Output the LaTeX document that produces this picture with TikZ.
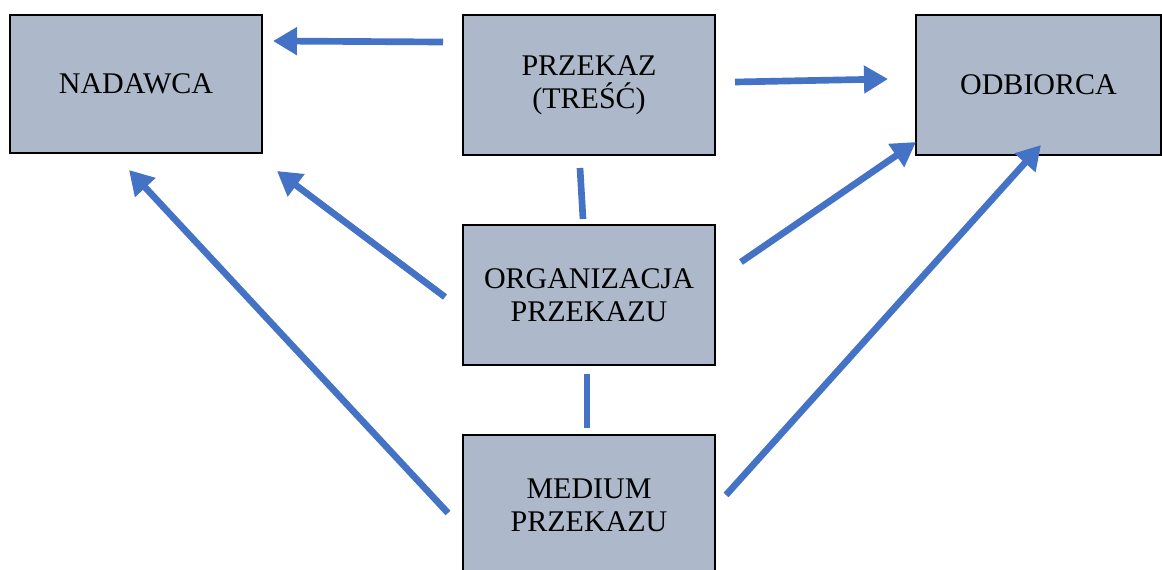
\documentclass[tikz,border=0pt]{standalone}
\usepackage{fontspec}
\setmainfont{Liberation Serif}
\usetikzlibrary{arrows.meta}
\definecolor{boxfill}{HTML}{ADB9CA}
\definecolor{arrowblue}{HTML}{4472C4}
\tikzset{
  box/.style={draw=black, line width=1.5pt, fill=boxfill, align=center,
    inner sep=0pt, font=\fontsize{22.5}{24.5}\selectfont},
  conn/.style={draw=arrowblue, line width=5pt},
  arr/.style={conn, -{Triangle[length=18pt,width=20pt]}},
}
\begin{document}
\begin{tikzpicture}[x=0.75pt,y=-0.75pt]
\useasboundingbox (0,0) rectangle (1162,569);
\node[box, minimum width=189pt, minimum height=104pt] (nad) at (136,84) {NADAWCA};
\node[box, minimum width=189pt, minimum height=105pt] (prz) at (589,85) {PRZEKAZ\\(TREŚĆ)};
\node[box, minimum width=184pt, minimum height=105pt] (odb) at (1038.5,85) {ODBIORCA};
\node[box, minimum width=189pt, minimum height=105pt] (org) at (589,295) {ORGANIZACJA\\PRZEKAZU};
\node[box, minimum width=189pt, minimum height=105pt] (med) at (589,505) {MEDIUM\\PRZEKAZU};
% connector end points
\coordinate (a1s) at (443,42);   \coordinate (a1e) at (273,41);
\coordinate (a2s) at (735,82);   \coordinate (a2e) at (888,79);
\coordinate (l3s) at (580,168);  \coordinate (l3e) at (583,219);
\coordinate (a4s) at (445,297);  \coordinate (a4e) at (277,171);
\coordinate (a5s) at (741,262);  \coordinate (a5e) at (916,142);
\coordinate (l6s) at (587,374);  \coordinate (l6e) at (587,428);
\coordinate (a7s) at (448,513);  \coordinate (a7e) at (129,170);
\coordinate (a8s) at (726,495);  \coordinate (a8e) at (1041,145);
\draw[arr] (a1s) -- (a1e);
\draw[arr] (a2s) -- (a2e);
\draw[conn] (l3s) -- (l3e);
\draw[arr] (a4s) -- (a4e);
\draw[arr] (a5s) -- (a5e);
\draw[conn] (l6s) -- (l6e);
\draw[arr] (a7s) -- (a7e);
\draw[arr] (a8s) -- (a8e);
\end{tikzpicture}
\end{document}
